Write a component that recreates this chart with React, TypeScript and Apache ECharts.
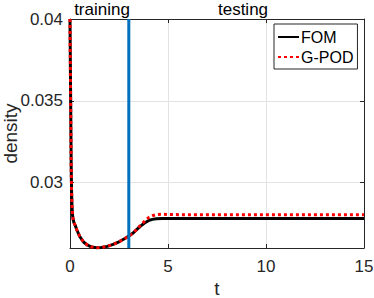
import React, { useEffect, useRef } from "react";
import * as echarts from "echarts";

const tValues = [0, 0.02, 0.04, 0.06, 0.08, 0.1, 0.13, 0.16, 0.2, 0.26, 0.35, 0.5, 0.7, 0.9, 1.1, 1.35, 1.6, 1.9, 2.2, 2.5, 2.8, 3.0, 3.2, 3.4, 3.6, 3.8, 4.0, 4.2, 4.4, 4.7, 5.0, 6, 8, 10, 12, 15];
const fomValues = [0.04, 0.037, 0.034, 0.031, 0.0295, 0.0286, 0.028, 0.02775, 0.02755, 0.0274, 0.0271, 0.0267, 0.02635, 0.02617, 0.02606, 0.02601, 0.02603, 0.0261, 0.02622, 0.02638, 0.02658, 0.02673, 0.0269, 0.02712, 0.02734, 0.02753, 0.02767, 0.02775, 0.02779, 0.0278, 0.0278, 0.0278, 0.0278, 0.0278, 0.0278, 0.0278];
const gpodValues = [0.04, 0.037, 0.034, 0.031, 0.0295, 0.0286, 0.028, 0.02775, 0.02755, 0.0274, 0.0271, 0.0267, 0.02635, 0.02617, 0.02606, 0.02601, 0.02603, 0.0261, 0.02622, 0.02638, 0.02658, 0.02673, 0.0269, 0.02713, 0.0274, 0.02763, 0.02785, 0.02797, 0.02804, 0.02806, 0.02805, 0.02803, 0.02803, 0.02803, 0.02803, 0.02803];
const splitT = 3;
const xTicks = [0, 5, 10, 15];
const yTicks = [0.03, 0.035, 0.04];
const yRange = [0.026, 0.04];
const xRange = [0, 15];
const phaseLabels = ["training", "testing"];

const FONT = "Liberation Sans, Arial, Helvetica, sans-serif";
const AX = "#262626";

export default function App() {
  const ref = useRef<HTMLDivElement>(null);
  useEffect(() => {
    if (!ref.current) return;
    const chart = echarts.init(ref.current, null, { renderer: "svg" });
    const baseX = {
      type: "value",
      min: xRange[0],
      max: xRange[1],
      interval: 5,
      axisLine: { show: true, onZero: false, lineStyle: { color: AX, width: 1 } },
      axisTick: { show: true, inside: true, length: 4, lineStyle: { color: AX } },
    };
    const baseY = {
      type: "value",
      min: yRange[0],
      max: yRange[1],
      axisLine: { show: true, onZero: false, lineStyle: { color: AX, width: 1 } },
      axisTick: { show: true, inside: true, length: 4, customValues: yTicks, lineStyle: { color: AX } },
    };
    chart.setOption({
      animation: false,
      backgroundColor: "#ffffff",
      textStyle: { fontFamily: FONT },
      grid: { left: 70, right: 10, top: 19, bottom: 50, containLabel: false, outerBoundsMode: "none" },
      xAxis: [
        {
          ...baseX,
          position: "bottom",
          name: "t",
          nameLocation: "middle",
          nameGap: 31,
          nameMoveOverlap: false,
          nameTextStyle: { fontSize: 19, color: AX, fontFamily: FONT },
          axisLabel: { show: true, margin: 10, fontSize: 17, color: AX, fontFamily: FONT, customValues: xTicks },
          splitLine: { show: true, lineStyle: { color: "#e3e3e3", width: 1 } },
        },
        {
          ...baseX,
          position: "top",
          axisLabel: { show: false },
          splitLine: { show: false },
        },
      ],
      yAxis: [
        {
          ...baseY,
          position: "left",
          name: "density",
          nameLocation: "middle",
          nameGap: 50,
          nameMoveOverlap: false,
          nameTextStyle: { fontSize: 19, color: AX, fontFamily: FONT },
          axisLabel: { show: true, margin: 7, fontSize: 17, color: AX, fontFamily: FONT, customValues: yTicks },
          splitLine: { show: true, lineStyle: { color: "#e3e3e3", width: 1 } },
        },
        {
          ...baseY,
          position: "right",
          axisLabel: { show: false },
          splitLine: { show: false },
        },
      ],
      legend: {
        data: ["FOM", "G-POD"],
        orient: "vertical",
        left: 274,
        top: 24,
        padding: [5, 4, 4, 3],
        itemGap: 4,
        itemWidth: 21,
        itemHeight: 14,
        borderColor: AX,
        borderWidth: 1,
        backgroundColor: "#ffffff",
        itemStyle: { opacity: 0 },
        textStyle: { fontSize: 16, color: "#000000", fontFamily: FONT, padding: [0, 0, 0, -3] },
      },
      graphic: [
        {
          type: "text",
          x: 102,
          y: 9,
          style: { text: phaseLabels[0], fontSize: 17, fontFamily: FONT, fill: "#000000", align: "center", verticalAlign: "middle" },
        },
        {
          type: "text",
          x: 243,
          y: 9,
          style: { text: phaseLabels[1], fontSize: 17, fontFamily: FONT, fill: "#000000", align: "center", verticalAlign: "middle" },
        },
      ],
      series: [
        {
          name: "FOM",
          type: "line",
          symbol: "none",
          data: tValues.map((t, i) => [t, fomValues[i]]),
          lineStyle: { color: "#000000", width: 3 },
          itemStyle: { color: "#000000" },
          z: 2,
        },
        {
          name: "G-POD",
          type: "line",
          symbol: "none",
          data: tValues.map((t, i) => [t, gpodValues[i]]),
          lineStyle: { color: "#ff0000", width: 3, type: [3, 3], cap: "butt" },
          itemStyle: { color: "#ff0000" },
          z: 3,
        },
        {
          name: "split",
          type: "line",
          symbol: "none",
          data: [[splitT, yRange[0]], [splitT, yRange[1]]],
          lineStyle: { color: "#0072BD", width: 3 },
          itemStyle: { color: "#0072BD" },
          z: 4,
        },
      ],
    });
    return () => chart.dispose();
  }, []);
  return <div ref={ref} style={{ width: 374, height: 298, position: "absolute", left: 0, top: 0 }} />;
}
